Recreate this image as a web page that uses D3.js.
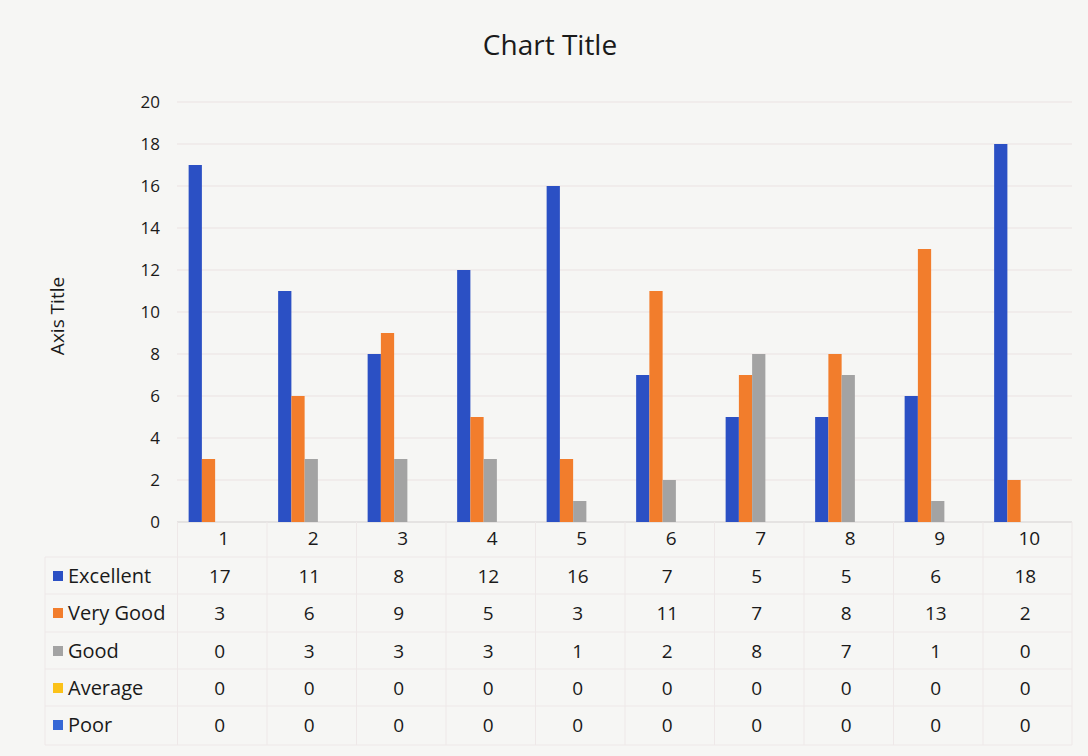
<!DOCTYPE html>
<html>
<head>
<meta charset="utf-8">
<script src="https://cdn.jsdelivr.net/npm/d3@7"></script>
<style>
    body { margin: 0; background: #f6f6f4; }
    svg text { font-family: "Open Sans", "Noto Sans", sans-serif; fill: #1a1a1a; }
</style>
</head>
<body>
<svg id="chart" width="1088" height="756"></svg>
<script>
var categories = ["1", "2", "3", "4", "5", "6", "7", "8", "9", "10"];
var seriesNames = ["Excellent", "Very Good", "Good", "Average", "Poor"];
var excellent = [17, 11, 8, 12, 16, 7, 5, 5, 6, 18];
var veryGood = [3, 6, 9, 5, 3, 11, 7, 8, 13, 2];
var good = [0, 3, 3, 3, 1, 2, 8, 7, 1, 0];
var average = [0, 0, 0, 0, 0, 0, 0, 0, 0, 0];
var poor = [0, 0, 0, 0, 0, 0, 0, 0, 0, 0];
var yTicks = [0, 2, 4, 6, 8, 10, 12, 14, 16, 18, 20];
var colors = ["#2b50c4", "#f27d2c", "#a3a3a3", "#fbc219", "#3668d6"];

var values = [excellent, veryGood, good, average, poor];

var svg = d3.select("#chart");
var plotLeft = 177, plotRight = 1072, plotTop = 102, plotBottom = 522;

var x = d3.scaleBand().domain(categories).range([plotLeft, plotRight]).paddingInner(0.26).paddingOuter(0.13);
var xs = d3.scaleBand().domain(seriesNames).range([0, x.bandwidth()]);
var y = d3.scaleLinear().domain([0, 20]).range([plotBottom, plotTop]);

// gridlines
svg.append("g").selectAll("line").data(yTicks).enter().append("line")
    .attr("x1", plotLeft).attr("x2", plotRight)
    .attr("y1", function(d) { return y(d); }).attr("y2", function(d) { return y(d); })
    .attr("stroke", function(d) { return d === 0 ? "#d4d0d0" : "#ebe2e2"; })
    .attr("stroke-width", 1);

// y tick labels
svg.append("g").selectAll("text").data(yTicks).enter().append("text")
    .attr("x", 160).attr("y", function(d) { return y(d); })
    .attr("dy", "0.35em").attr("text-anchor", "end")
    .style("font-size", "17px")
    .text(function(d) { return d; });

// bars
var groups = svg.append("g").selectAll("g").data(categories).enter().append("g")
    .attr("transform", function(d) { return "translate(" + x(d) + ",0)"; });

groups.selectAll("rect")
    .data(function(d, i) {
        return seriesNames.map(function(s, j) { return {name: s, value: values[j][i], color: colors[j]}; });
    })
    .enter().append("rect")
    .attr("x", function(d) { return xs(d.name); })
    .attr("width", xs.bandwidth())
    .attr("y", function(d) { return y(d.value); })
    .attr("height", function(d) { return plotBottom - y(d.value); })
    .attr("fill", function(d) { return d.color; });

// title
svg.append("text").attr("x", 550).attr("y", 55).attr("text-anchor", "middle")
    .style("font-size", "28px").text("Chart Title");

// axis title
svg.append("text").attr("transform", "translate(64,316) rotate(-90)")
    .attr("text-anchor", "middle").style("font-size", "19px").text("Axis Title");

// ###### DATA TABLE ######
var headerY = 538, rowY = [576, 613, 651, 688, 725];
var tableLeft = 45, tableBottom = 745;
var lineColor = "#eee8e8";

var table = svg.append("g");
table.selectAll(".vline").data(categories).enter().append("line")
    .attr("x1", function(d) { return x(d) - x.step() * x.paddingInner() / 2 + 0.5; })
    .attr("x2", function(d) { return x(d) - x.step() * x.paddingInner() / 2 + 0.5; })
    .attr("y1", plotBottom).attr("y2", tableBottom)
    .attr("stroke", lineColor);
table.append("line").attr("x1", plotRight).attr("x2", plotRight).attr("y1", plotBottom).attr("y2", tableBottom).attr("stroke", lineColor);
table.selectAll(".hline").data(rowY).enter().append("line")
    .attr("x1", tableLeft).attr("x2", plotRight)
    .attr("y1", function(d) { return d - 19; }).attr("y2", function(d) { return d - 19; })
    .attr("stroke", lineColor);
table.append("line").attr("x1", tableLeft).attr("x2", plotRight).attr("y1", tableBottom).attr("y2", tableBottom).attr("stroke", lineColor);
table.append("line").attr("x1", tableLeft).attr("x2", tableLeft).attr("y1", rowY[0] - 19).attr("y2", tableBottom).attr("stroke", lineColor);

// header numbers
table.selectAll(".head").data(categories).enter().append("text")
    .attr("x", function(d) { return x(d) + x.bandwidth() / 2 + 2; })
    .attr("y", headerY).attr("dy", "0.35em").attr("text-anchor", "middle")
    .style("font-size", "19px").text(function(d) { return d; });

// rows
seriesNames.forEach(function(name, j) {
    table.append("rect").attr("x", 53).attr("y", rowY[j] - 5).attr("width", 10).attr("height", 10)
        .attr("fill", colors[j]);
    table.append("text").attr("x", 68).attr("y", rowY[j]).attr("dy", "0.35em")
        .style("font-size", "20px").text(name);
    table.selectAll(".cell" + j).data(values[j]).enter().append("text")
        .attr("x", function(d, i) { return x(categories[i]) + x.bandwidth() / 2 - 2; })
        .attr("y", rowY[j]).attr("dy", "0.35em").attr("text-anchor", "middle")
        .style("font-size", "19px").text(function(d) { return d; });
});
</script>
</body>
</html>
